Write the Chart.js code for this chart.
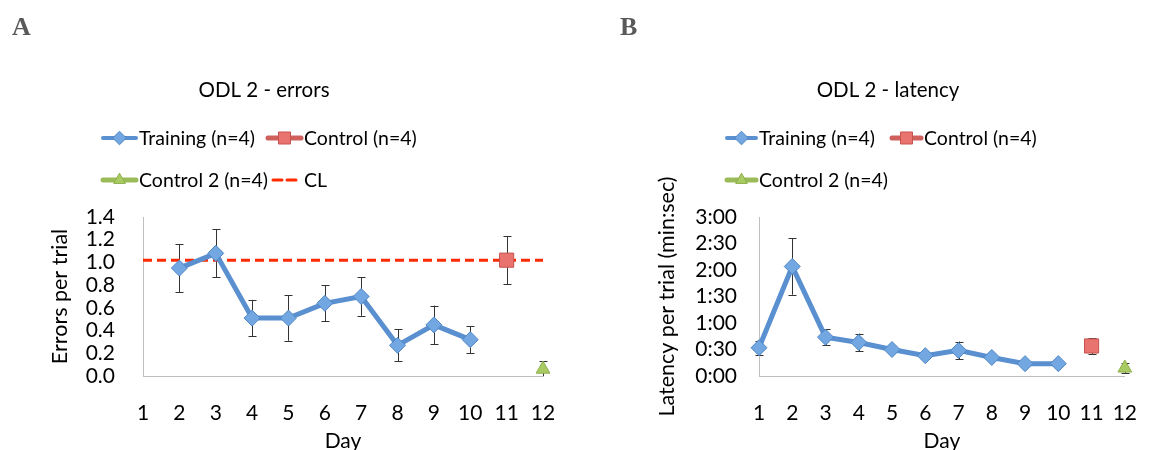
<!DOCTYPE html>
<html>
<head>
<meta charset="utf-8">
<script src="https://cdn.jsdelivr.net/npm/chart.js"></script>
<style>
  html, body { margin: 0; padding: 0; background: #fff; }
  #wrap { position: relative; width: 1162px; height: 450px; overflow: hidden; }
  canvas { position: absolute; top: 0; }
  #chartA { left: 0; }
  #chartB { left: 581px; }
</style>
</head>
<body>
<div id="wrap">
  <canvas id="chartA" width="581" height="450"></canvas>
  <canvas id="chartB" width="581" height="450"></canvas>
</div>
<script>
// Données
const days = [1, 2, 3, 4, 5, 6, 7, 8, 9, 10];
const controlDay = 11;
const control2Day = 12;
const dayTicks = [1, 2, 3, 4, 5, 6, 7, 8, 9, 10, 11, 12];

// A - erreurs par essai
const errorsTraining = [null, 0.95, 1.08, 0.51, 0.51, 0.64, 0.70, 0.27, 0.45, 0.32];
const errorsTrainingSE = [null, 0.21, 0.21, 0.16, 0.20, 0.16, 0.17, 0.14, 0.17, 0.12];
const errorsControl = [1.02];
const errorsControlSE = [0.21];
const errorsControl2 = [0.06];
const errorsControl2SE = [0.07];
const errorsCL = 1.02;
const errorTicks = [0, 0.2, 0.4, 0.6, 0.8, 1.0, 1.2, 1.4];

// B - latence par essai (secondes)
const latencyTraining = [32, 124, 44, 38, 30, 23, 29, 21, 14, 14];
const latencyTrainingSE = [8, 32, 9, 10, 3, 4, 10, 2, 1, 1];
const latencyControl = [34];
const latencyControlSE = [9];
const latencyControl2 = [9];
const latencyControl2SE = [6];
const latencyTicks = [0, 30, 60, 90, 120, 150, 180];

const FONT = 'Lato';
const BLUE = '#5a90d0';
const RED = '#d0605c';
const GREEN = '#9bbb59';

function pts(xs, ys) {
    return xs.map((x, i) => ({ x: x, y: ys[i] }));
}

function mmss(v) {
    const m = Math.floor(v / 60);
    const s = Math.round(v - m * 60);
    return m + ':' + (s < 10 ? '0' : '') + s;
}

// Barres d'erreur dessinées avec les échelles du graphique
const errorBars = {
    id: 'errorBars',
    beforeDatasetsDraw(chart) {
        const ctx = chart.ctx;
        const y = chart.scales.y;
        ctx.save();
        ctx.strokeStyle = '#333';
        ctx.lineWidth = 1;
        chart.data.datasets.forEach((ds, di) => {
            if (!ds.errors) return;
            const meta = chart.getDatasetMeta(di);
            ds.data.forEach((p, i) => {
                const e = ds.errors[i];
                if (p.y == null || e == null) return;
                const px = Math.round(meta.data[i].x) + 0.5;
                const top = y.getPixelForValue(p.y + e);
                const bot = y.getPixelForValue(Math.max(p.y - e, 0));
                ctx.beginPath();
                ctx.moveTo(px, top); ctx.lineTo(px, bot);
                ctx.moveTo(px - 4, Math.round(top) + 0.5); ctx.lineTo(px + 4, Math.round(top) + 0.5);
                if (p.y - e > 0) {
                    ctx.moveTo(px - 4, Math.round(bot) + 0.5); ctx.lineTo(px + 4, Math.round(bot) + 0.5);
                }
                ctx.stroke();
            });
        });
        ctx.restore();
    }
};

// Lettre du panneau, titre et légende (disposition en grille comme Excel)
const header = {
    id: 'header',
    afterDraw(chart, args, opts) {
        const ctx = chart.ctx;
        ctx.save();
        ctx.fillStyle = '#595959';
        ctx.font = 'bold 26px "Liberation Serif"';
        ctx.textAlign = 'left';
        ctx.textBaseline = 'alphabetic';
        ctx.fillText(opts.letter, opts.letterX, 35);

        ctx.fillStyle = '#000';
        ctx.font = '20.5px ' + FONT;
        ctx.textAlign = 'center';
        ctx.textBaseline = 'middle';
        ctx.fillText(opts.title, opts.titleX, 90);

        ctx.font = '19.5px ' + FONT;
        ctx.textAlign = 'left';
        opts.items.forEach(it => {
            const ds = chart.data.datasets[it.index];
            const cy = it.y;
            ctx.save();
            ctx.strokeStyle = ds.legendLine || ds.borderColor;
            ctx.lineWidth = ds.legendWidth || 4;
            ctx.lineCap = 'round';
            ctx.setLineDash(ds.borderDash || []);
            ctx.beginPath();
            ctx.moveTo(it.x + 1, cy);
            ctx.lineTo(it.x + it.w - 1, cy);
            ctx.stroke();
            ctx.restore();
            if (ds.pointStyle && ds.pointRadius > 0) {
                ctx.save();
                ctx.fillStyle = ds.pointBackgroundColor;
                ctx.strokeStyle = ds.pointBorderColor;
                ctx.lineWidth = 1;
                Chart.helpers.drawPoint(ctx, {
                    pointStyle: ds.pointStyle,
                    radius: ds.pointRadius * 0.85,
                    rotation: 0,
                    borderWidth: 1
                }, it.x + it.w / 2, cy);
                ctx.restore();
            }
            ctx.fillStyle = '#000';
            ctx.fillText(ds.label, it.x + it.w + 2, cy + 1);
        });
        ctx.restore();
    }
};

function makeOptions(cfg) {
    return {
        responsive: false,
        animation: false,
        devicePixelRatio: 1,
        layout: { padding: { left: 0, right: cfg.padRight, top: 217, bottom: 0 } },
        plugins: {
            legend: { display: false },
            title: { display: false },
            tooltip: { enabled: false },
            header: cfg.header
        },
        scales: {
            x: {
                type: 'linear',
                min: 1,
                max: 12,
                afterBuildTicks: s => { s.ticks = dayTicks.map(v => ({ value: v })); },
                afterFit: s => { s.height = 74; },
                grid: { display: false, drawTicks: false },
                border: { display: true, color: '#bfbfbf', width: 1 },
                ticks: { color: '#000', padding: 25, autoSkip: false, maxRotation: 0, font: { family: FONT, size: 21 } },
                title: { display: true, text: 'Day', color: '#000', padding: { top: 0, bottom: -4 }, font: { family: FONT, size: 21 } }
            },
            y: {
                min: cfg.yMin,
                max: cfg.yMax,
                afterBuildTicks: s => { s.ticks = cfg.ticks.map(v => ({ value: v })); },
                afterFit: s => { s.width = cfg.yWidth; },
                grid: { display: false, drawTicks: false },
                border: { display: true, color: '#bfbfbf', width: 1 },
                ticks: { color: '#000', padding: cfg.tickPad, autoSkip: false, font: { family: FONT, size: 21 }, callback: cfg.format },
                title: { display: true, text: cfg.yTitle, color: '#000', padding: { top: cfg.yTitlePad, bottom: 0 }, font: { family: FONT, size: 21.5 } }
            }
        }
    };
}

function trainingSet(values, se) {
    return {
        label: 'Training (n=4)',
        data: pts(days, values),
        errors: se,
        borderColor: BLUE,
        borderWidth: 5,
        pointStyle: 'rectRot',
        pointRadius: 8,
        pointBackgroundColor: '#72a7e2',
        pointBorderColor: '#5086c4',
        pointBorderWidth: 1,
        spanGaps: false,
        clip: false
    };
}
function controlSet(values, se) {
    return {
        label: 'Control (n=4)',
        data: pts([controlDay], values),
        errors: se,
        showLine: false,
        borderColor: RED,
        legendLine: RED,
        legendWidth: 5,
        pointStyle: 'rect',
        pointRadius: 10,
        pointBackgroundColor: '#e8736f',
        pointBorderColor: '#c65450',
        pointBorderWidth: 1,
        clip: false
    };
}
function control2Set(values, se) {
    return {
        label: 'Control 2 (n=4)',
        data: pts([control2Day], values),
        errors: se,
        showLine: false,
        borderColor: GREEN,
        legendLine: GREEN,
        legendWidth: 5,
        pointStyle: 'triangle',
        pointRadius: 8,
        pointBackgroundColor: '#a8cb63',
        pointBorderColor: '#8eae4c',
        pointBorderWidth: 1,
        clip: false
    };
}

// Panneau A
new Chart(document.getElementById('chartA'), {
    type: 'line',
    data: {
        datasets: [
            trainingSet(errorsTraining, errorsTrainingSE),
            controlSet(errorsControl, errorsControlSE),
            control2Set(errorsControl2, errorsControl2SE),
            {
                label: 'CL',
                data: pts([dayTicks[0], dayTicks[dayTicks.length - 1]], [errorsCL, errorsCL]),
                borderColor: '#ff2a00',
                borderWidth: 3,
                borderDash: [9, 5],
                legendWidth: 3,
                pointRadius: 0,
                clip: false
            }
        ]
    },
    options: makeOptions({
        padRight: 38, yMin: 0, yMax: 1.4, ticks: errorTicks, yWidth: 143, tickPad: 28,
        yTitle: 'Errors per trial', yTitlePad: 47,
        format: v => Number(v).toFixed(1),
        header: {
            letter: 'A', letterX: 12, title: 'ODL 2 - errors', titleX: 264,
            items: [
                { index: 0, x: 102, y: 138, w: 35 },
                { index: 1, x: 267, y: 138, w: 35 },
                { index: 2, x: 102, y: 180, w: 35 },
                { index: 3, x: 272, y: 180, w: 30 }
            ]
        }
    }),
    plugins: [errorBars, header]
});

// Panneau B
new Chart(document.getElementById('chartB'), {
    type: 'line',
    data: {
        datasets: [
            trainingSet(latencyTraining, latencyTrainingSE),
            controlSet(latencyControl, latencyControlSE),
            control2Set(latencyControl2, latencyControl2SE)
        ]
    },
    options: makeOptions({
        padRight: 12, yMin: 0, yMax: 180, ticks: latencyTicks, yWidth: 178, tickPad: 22,
        yTitle: 'Latency per trial (min:sec)', yTitlePad: 73,
        format: v => mmss(v),
        header: {
            letter: 'B', letterX: 39, title: 'ODL 2 - latency', titleX: 307,
            items: [
                { index: 0, x: 145, y: 138, w: 31 },
                { index: 1, x: 310, y: 138, w: 31 },
                { index: 2, x: 145, y: 180, w: 31 }
            ]
        }
    }),
    plugins: [errorBars, header]
});
</script>
</body>
</html>
